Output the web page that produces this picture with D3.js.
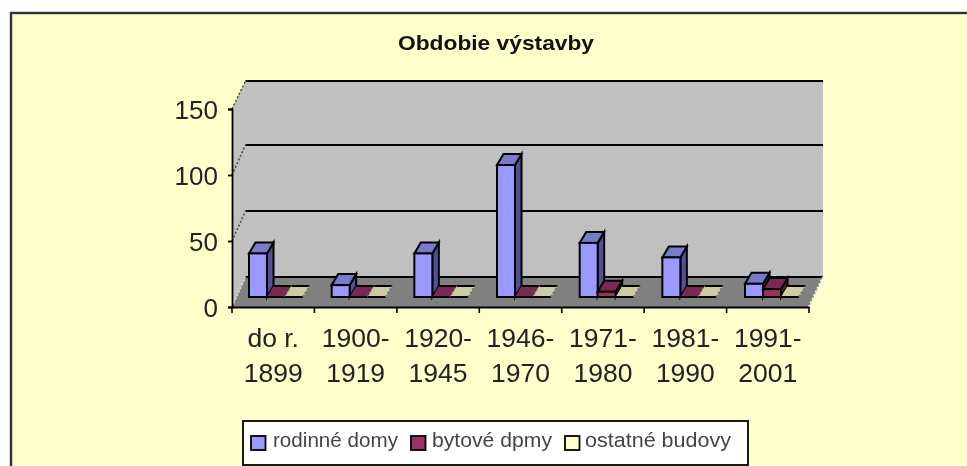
<!DOCTYPE html>
<html><head><meta charset="utf-8">
<script src="https://cdnjs.cloudflare.com/ajax/libs/d3/7.8.5/d3.min.js"></script>
<style>
html,body{margin:0;padding:0;background:#fff;overflow:hidden}
svg{display:block;filter:blur(0.7px)}
text{font-family:"Liberation Sans",Arial,sans-serif}
</style></head><body><svg id="c" width="967" height="466"></svg>
<script>
const categories = [["do r.","1899"],["1900-","1919"],["1920-","1945"],["1946-","1970"],["1971-","1980"],["1981-","1990"],["1991-","2001"]];
const rodinneDomy = [33, 9, 33, 100, 41, 30, 10];
const bytoveDomy = [0, 0, 0, 0, 4, 0, 6];
const ostatneBudovy = [0, 0, 0, 0, 0, 0, 0];
const seriesNames = ["rodinné domy", "bytové dpmy", "ostatné budovy"];
const seriesValues = [rodinneDomy, bytoveDomy, ostatneBudovy];
const yTicks = [0, 50, 100, 150];
const title = "Obdobie výstavby";
const colors = [
  {front:"#9999FF", top:"#7A7ACC", side:"#505095"},
  {front:"#993366", top:"#7A2952", side:"#4D1A33"},
  {front:"#FFFFCC", top:"#CCCCA3", side:"#808066"}
];

const svg = d3.select("#c");
const W = 967, H = 466;
const DX = 13.5, DY = -30;           // depth of the plot box
const x = d3.scaleBand().domain(d3.range(categories.length)).range([232, 809]);
const xBars = d3.scaleBand().domain(d3.range(categories.length)).range([232, 810.7]);
const y = d3.scaleLinear().domain([0, 150]).range([307, 109]);
const barW = 18, barStart = 17;
const sx = d3.scaleBand().domain(d3.range(seriesValues.length)).range([0, barW * seriesValues.length]);
const poly = pts => pts.map(p => p.join(",")).join(" ");

svg.append("rect").attr("width", W).attr("height", H).attr("fill", "#fff");
svg.append("rect").attr("x", 11).attr("y", 13).attr("width", W).attr("height", H)
  .attr("fill", "#FFFFCC").attr("stroke", "#333").attr("stroke-width", 2.4);

svg.append("text").text(title).attr("x", 398).attr("y", 49.5)
  .attr("font-size", 20.5).attr("font-weight", "bold")
  .attr("textLength", 196).attr("lengthAdjust", "spacingAndGlyphs").attr("fill", "#111");

// walls
const x0 = x.range()[0], x1 = x.range()[1], y0 = y(0), yT = y(150);
svg.append("polygon").attr("fill", "#C0C0C0")
  .attr("points", poly([[x0, y0],[x0, yT],[x0 + DX, yT + DY + 2],[x1 + DX + .5, yT + DY + 2],[x1 + DX + .5, y0 + DY],[x0 + DX, y0 + DY]]));
svg.append("polygon").attr("fill", "#808080")
  .attr("points", poly([[x0, y0],[x1, y0],[x1 + DX + .5, y0 + DY],[x0 + DX, y0 + DY]]));

// gridlines
yTicks.forEach(t => {
  const top = t === 150 ? 2 : 0;
  svg.append("line").attr("x1", x0 + DX).attr("x2", x1 + DX + .5)
    .attr("y1", y(t) + DY + top).attr("y2", y(t) + DY + top)
    .attr("stroke", "#000").attr("stroke-width", 2);
  svg.append("line").attr("x1", x0).attr("x2", x0 + DX)
    .attr("y1", y(t)).attr("y2", y(t) + DY + top)
    .attr("stroke", t === 0 ? "#ddd" : "#444").attr("stroke-width", 1.5).attr("stroke-dasharray", "2,2");
});
svg.append("line").attr("x1", x1).attr("y1", y0).attr("x2", x1 + DX + .5).attr("y2", y0 + DY)
  .attr("stroke", "#eee").attr("stroke-width", 2.4).attr("stroke-dasharray", "2,2");

// bars
const bd = {dx: 6.5, dy: -11, base: -10};
categories.forEach((_, i) => {
  seriesValues.forEach((vals, s) => {
    const v = vals[i];
    const xa = xBars(i) + barStart + sx(s), xb = xa + barW;
    const yb = y0 + bd.base, h = y0 - y(v), yt = yb - h;
    const c = colors[s];
    const g = svg.append("g").attr("stroke", "#000").attr("stroke-width", 2).attr("stroke-linejoin", "miter");
    if (v === 0) {
      g.append("polygon").attr("fill", c.top)
        .attr("points", poly([[xa, yb],[xb, yb],[xb + bd.dx, yb + bd.dy],[xa + bd.dx, yb + bd.dy]]))
        .attr("stroke", "none");
      g.append("line").attr("x1", xa).attr("x2", xb).attr("y1", yb).attr("y2", yb);
      g.append("line").attr("x1", xa + bd.dx).attr("x2", xb + bd.dx).attr("y1", yb + bd.dy).attr("y2", yb + bd.dy);
      g.append("line").attr("x1", xb).attr("y1", yb).attr("x2", xb + bd.dx).attr("y2", yb + bd.dy)
        .attr("stroke", "#777").attr("stroke-dasharray", "2,2");
    } else {
      g.append("polygon").attr("fill", c.side)
        .attr("points", poly([[xb, yb],[xb + bd.dx, yb + bd.dy],[xb + bd.dx, yt + bd.dy],[xb, yt]]));
      g.append("polygon").attr("fill", c.top)
        .attr("points", poly([[xa, yt],[xb, yt],[xb + bd.dx, yt + bd.dy],[xa + bd.dx, yt + bd.dy]]));
      g.append("rect").attr("fill", c.front).attr("x", xa).attr("y", yt).attr("width", barW).attr("height", h);
    }
  });
});

// axes
const yAxis = svg.append("g").attr("transform", `translate(${x0},0)`)
  .call(d3.axisLeft(y).tickValues(yTicks).tickSize(4).tickPadding(10).tickFormat(d3.format("d")));
yAxis.selectAll("text").attr("font-size", 26).attr("font-family", '"Liberation Sans"').attr("fill", "#222").attr("dy", "0.35em");
yAxis.selectAll("line,path").attr("stroke", "#000").attr("stroke-width", 1.8);

const xAxis = svg.append("g").attr("transform", `translate(0,${y0})`)
  .call(d3.axisBottom(x).tickSize(0).tickFormat(""));
xAxis.selectAll("path").attr("stroke", "#000").attr("stroke-width", 2);
svg.append("g").selectAll("line").data(d3.range(categories.length + 1)).join("line")
  .attr("x1", i => x0 + i * x.step()).attr("x2", i => x0 + i * x.step())
  .attr("y1", y0).attr("y2", y0 + 6).attr("stroke", "#000").attr("stroke-width", 1.6);
svg.append("g").selectAll("text").data(categories).join("text")
  .attr("font-size", 26.5).attr("fill", "#222").attr("text-anchor", "middle")
  .each(function (d, i) {
    d3.select(this).selectAll("tspan").data(d).join("tspan")
      .attr("x", x(i) + x.bandwidth() / 2).attr("y", (_, k) => 347 + k * 34.5).text(t => t);
  });

// legend
svg.append("rect").attr("x", 243).attr("y", 421).attr("width", 505).attr("height", 44)
  .attr("fill", "#fff").attr("stroke", "#000").attr("stroke-width", 1.8);
const legendSwatch = [251, 411, 565], legendText = [273, 432, 585], legendLen = [125, 120, 146];
seriesNames.forEach((n, i) => {
  svg.append("rect").attr("x", legendSwatch[i]).attr("y", 436).attr("width", 14.5).attr("height", 14)
    .attr("fill", colors[i].front).attr("stroke", "#000").attr("stroke-width", 1.8);
  svg.append("text").text(n).attr("x", legendText[i]).attr("y", 447).attr("font-size", 20.5)
    .attr("textLength", legendLen[i]).attr("lengthAdjust", "spacingAndGlyphs").attr("fill", "#444");
});
</script></body></html>
